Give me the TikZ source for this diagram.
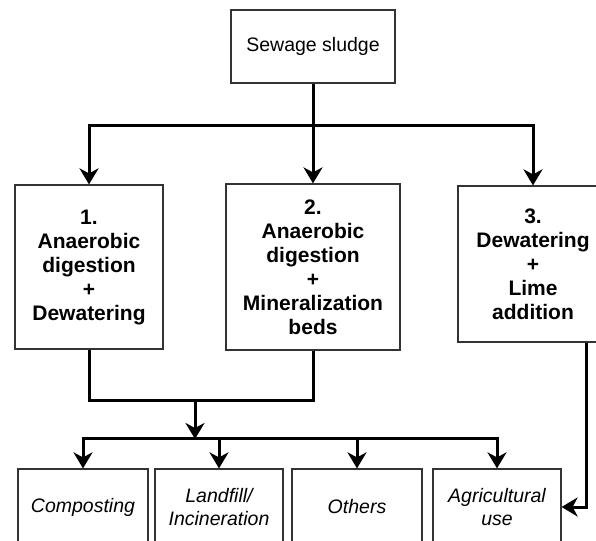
\documentclass[tikz,border=0pt]{standalone}
\usepackage{fontspec}
\setmainfont{Liberation Sans}
\usetikzlibrary{arrows.meta}
\begin{document}
\begin{tikzpicture}[x=1pt,y=-1pt,
  box/.style={draw=black!80,line width=1.2pt,fill=white,inner sep=0pt,align=center,
    font=\fontsize{19.5}{23}\selectfont},
  boldbox/.style={box,font=\fontsize{21}{24}\selectfont\bfseries},
  itbox/.style={box,font=\fontsize{19.5}{23}\selectfont\itshape},
  conn/.style={line width=3pt,line join=miter},
  arr/.style={conn,-{Stealth[length=16pt,width=19pt,inset=5pt]}}]
\useasboundingbox (0,0) rectangle (596,540);
\clip (0,0) rectangle (596,540);
\fill[white] (0,0) rectangle (596,540);
% nodes
\node[box,minimum width=164pt,minimum height=73pt] (ss) at (313,46.5) {Sewage sludge};
\node[boldbox,minimum width=148pt,minimum height=164pt] (b1) at (89,267) {1.\\Anaerobic\\digestion\\+\\Dewatering};
\node[boldbox,minimum width=174pt,minimum height=166pt] (b2) at (313,267) {2.\\Anaerobic\\digestion\\+\\Mineralization\\beds};
\node[boldbox,minimum width=150pt,minimum height=156pt] (b3) at (533,264) {3.\\Dewatering\\+\\Lime\\addition};
\node[itbox,minimum width=130pt,minimum height=76pt] (c1) at (83,507) {Composting};
\node[itbox,minimum width=128pt,minimum height=76pt] (c2) at (219,507) {Landfill/\\Incineration};
\node[itbox,minimum width=130pt,minimum height=76pt] (c3) at (357,507) {Others};
\node[itbox,minimum width=128pt,minimum height=76pt] (c4) at (497,507) {Agricultural\\use};
% junctions
\coordinate (j1) at (313,126);
\coordinate (m) at (195,400);
\coordinate (j2) at (195,438);
% connectors
\draw[conn] (ss.south) -- (j1);
\draw[arr] (j1) -| (b1.north);
\draw[arr] (j1) -- (b2.north);
\draw[arr] (j1) -| (b3.north);
\draw[conn] (b1.south) |- (m) -| (b2.south);
\draw[arr] (m) -- ([yshift=-1pt]j2);
\draw[arr] (j2) -| (c1.north);
\draw[arr] (j2) -| (c2.north);
\draw[arr] (j2) -| (c3.north);
\draw[arr] (j2) -| (c4.north);
\draw[arr] ([xshift=53pt]b3.south) |- (c4.east);
\end{tikzpicture}
\end{document}
